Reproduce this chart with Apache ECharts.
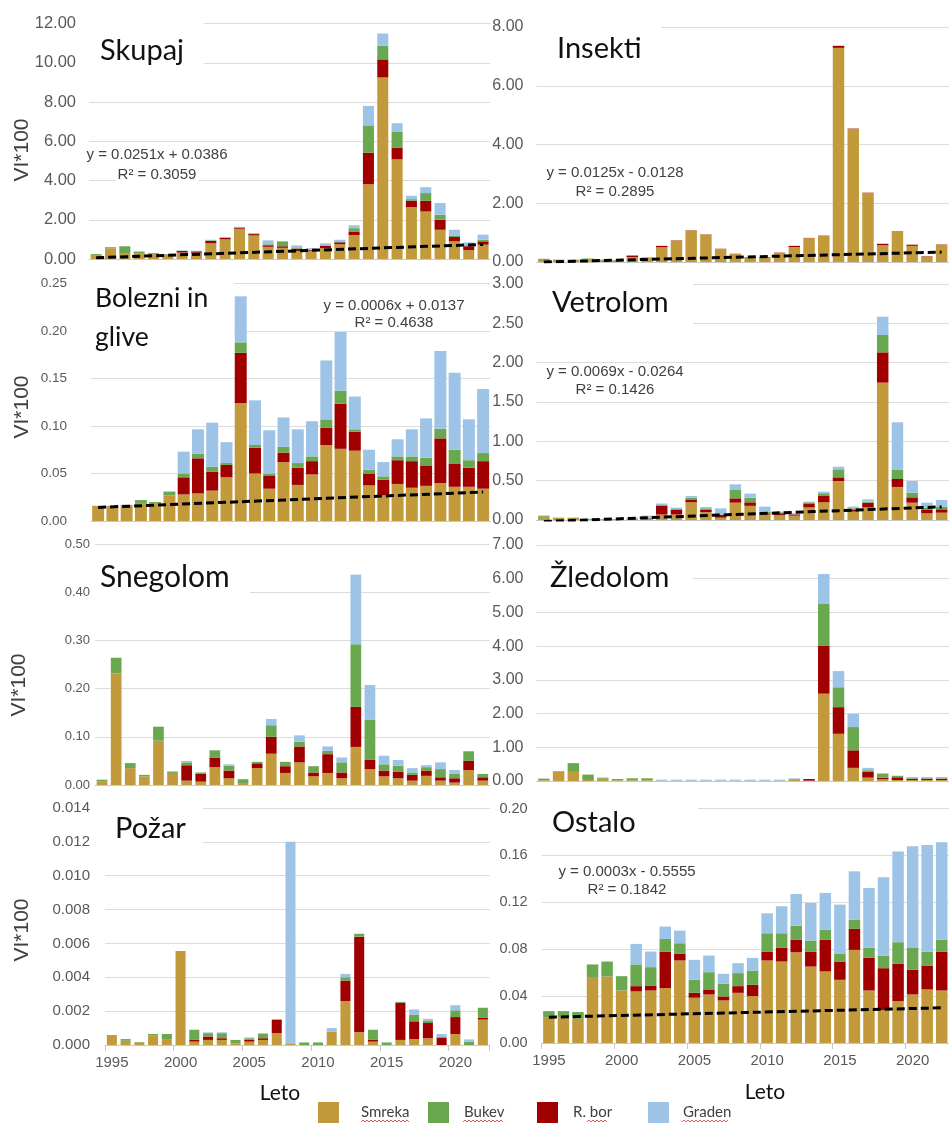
<!DOCTYPE html>
<html>
<head>
<meta charset="utf-8">
<script src="https://cdn.jsdelivr.net/npm/echarts/dist/echarts.min.js"></script>
<style>
  html, body { margin: 0; padding: 0; background: #ffffff; }
  #chart { width: 949px; height: 1124px; }
</style>
</head>
<body>
<div id="chart"></div>
<script>
// ---------- data ----------
const YEARS = ['1995','1996','1997','1998','1999','2000','2001','2002','2003','2004',
               '2005','2006','2007','2008','2009','2010','2011','2012','2013','2014',
               '2015','2016','2017','2018','2019','2020','2021','2022'];
const SPECIES = ['Smreka', 'Bukev', 'R. bor', 'Graden'];

// Skupaj
const SKUPAJ_SMREKA = [0.20,0.55,0.30,0.30,0.25,0.22,0.33,0.32,0.80,1.00,1.52,1.20,0.62,0.57,0.40,0.40,0.55,0.75,1.22,3.81,9.25,5.08,2.64,2.42,1.49,0.90,0.45,0.73];
const SKUPAJ_BUKEV  = [0.05,0.05,0.35,0.08,0.05,0.03,0.00,0.00,0.03,0.03,0.05,0.03,0.05,0.25,0.04,0.03,0.03,0.05,0.17,1.39,0.69,0.79,0.08,0.39,0.25,0.08,0.05,0.08];
const SKUPAJ_RBOR   = [0,0,0,0,0,0,0.08,0.07,0.12,0.07,0.05,0.07,0.08,0.08,0.12,0.05,0.12,0.10,0.18,1.61,0.92,0.60,0.33,0.55,0.51,0.22,0.20,0.17];
const SKUPAJ_GRADEN = [0,0,0,0,0,0,0.03,0.03,0.03,0.02,0.02,0.02,0.20,0.02,0.13,0.08,0.10,0.08,0.15,0.99,0.63,0.45,0.17,0.30,0.60,0.29,0.15,0.26];
const SKUPAJ_TREND  = [0.0637, 0.7414];

// Insekti
const INSEKTI_SMREKA = [0.07,0.07,0.07,0.08,0.07,0.06,0.17,0.14,0.50,0.73,1.07,0.93,0.44,0.27,0.16,0.16,0.31,0.51,0.81,0.89,7.29,4.54,2.35,0.57,1.04,0.55,0.19,0.59];
const INSEKTI_BUKEV  = [0.04,0.01,0.01,0.04,0.01,0.01,0,0,0,0,0,0,0,0,0,0,0,0,0,0,0,0,0,0,0,0,0,0];
const INSEKTI_RBOR   = [0,0,0,0,0,0,0.05,0.01,0.05,0.01,0.01,0.01,0.01,0.01,0.01,0.01,0.01,0.04,0.01,0.01,0.07,0.01,0.01,0.05,0.01,0.04,0.01,0.01];
const INSEKTI_GRADEN = [0,0,0,0,0,0,0,0,0,0,0,0,0,0,0,0,0,0,0,0,0,0,0,0,0,0,0,0];
const INSEKTI_TREND  = [-0.0003, 0.3372];

// Bolezni in glive
const BOLEZNI_SMREKA = [0.016,0.016,0.0165,0.019,0.019,0.027,0.028,0.029,0.032,0.046,0.124,0.050,0.034,0.062,0.038,0.049,0.080,0.076,0.074,0.0375,0.027,0.039,0.035,0.037,0.040,0.036,0.036,0.034];
const BOLEZNI_BUKEV  = [0,0,0.0005,0.003,0.001,0.004,0.004,0.005,0.005,0.002,0.011,0.003,0.002,0.006,0.005,0.005,0.009,0.0135,0.0025,0.004,0.0035,0.004,0.005,0.008,0.010,0.015,0.008,0.0085];
const BOLEZNI_RBOR   = [0,0,0,0,0,0,0.018,0.037,0.020,0.013,0.053,0.027,0.014,0.010,0.018,0.014,0.018,0.0475,0.020,0.0125,0.0165,0.025,0.028,0.0215,0.047,0.024,0.020,0.029];
const BOLEZNI_GRADEN = [0,0,0,0,0,0,0.023,0.0255,0.0465,0.022,0.0485,0.047,0.0455,0.031,0.0355,0.037,0.062,0.062,0.0345,0.021,0.015,0.018,0.0285,0.0415,0.082,0.081,0.043,0.0675];
const BOLEZNI_TREND  = [0.0143, 0.0305];

// Vetrolom
const VETROLOM_SMREKA = [0.04,0.025,0.025,0.012,0.01,0.01,0.01,0.01,0.07,0.07,0.225,0.10,0.03,0.22,0.18,0.07,0.064,0.055,0.16,0.225,0.496,0.106,0.16,1.746,0.42,0.22,0.085,0.093];
const VETROLOM_BUKEV  = [0.015,0.005,0.005,0.003,0.003,0.003,0.005,0.01,0.01,0.01,0.03,0.021,0.005,0.106,0.059,0.021,0.012,0,0.022,0.035,0.102,0.021,0.013,0.221,0.115,0.059,0.03,0.034];
const VETROLOM_RBOR   = [0,0,0,0,0,0,0,0.01,0.11,0.06,0.029,0.027,0.034,0.055,0.045,0.015,0.021,0.017,0.043,0.08,0.046,0.021,0.06,0.385,0.101,0.068,0.042,0.043];
const VETROLOM_GRADEN = [0,0,0,0,0,0,0.015,0.025,0.02,0.017,0.021,0.017,0.079,0.072,0.051,0.064,0.009,0.013,0.008,0.02,0.034,0.022,0.03,0.233,0.606,0.149,0.063,0.084];
const VETROLOM_TREND  = [-0.0195, 0.1668];

// Snegolom
const SNEGOLOM_SMREKA = [0.007,0.232,0.035,0.018,0.092,0.025,0.009,0.007,0.037,0.014,0.004,0.035,0.065,0.025,0.047,0.018,0.025,0.014,0.079,0.033,0.018,0.014,0.009,0.019,0.009,0.005,0.031,0.009];
const SNEGOLOM_BUKEV  = [0.004,0.032,0.0105,0.003,0.029,0.003,0.006,0.003,0.015,0.010,0.008,0.003,0.024,0.009,0.010,0.013,0.007,0.021,0.130,0.083,0.013,0.012,0.005,0.007,0.017,0.009,0.020,0.007];
const SNEGOLOM_RBOR   = [0,0,0,0,0,0,0.032,0.016,0.020,0.016,0,0.010,0.035,0.014,0.033,0.008,0.039,0.012,0.083,0.019,0.012,0.014,0.012,0.011,0.007,0.009,0.019,0.007];
const SNEGOLOM_GRADEN = [0,0,0,0,0,0,0.003,0,0,0.003,0,0,0.013,0,0.013,0,0.009,0.010,0.1445,0.0725,0.0177,0.012,0.009,0.004,0.014,0.008,0,0];

// Žledolom
const ZLEDOLOM_SMREKA = [0.02,0.27,0.27,0.03,0.07,0.02,0.02,0.02,0.005,0.005,0.005,0.005,0.005,0.005,0.005,0.005,0.005,0.05,0.01,2.59,1.40,0.39,0.10,0.05,0.03,0.03,0.03,0.03];
const ZLEDOLOM_BUKEV  = [0.05,0.02,0.26,0.16,0.03,0.04,0.06,0.06,0,0,0,0,0,0,0,0,0,0.01,0,1.23,0.59,0.69,0.05,0.12,0.04,0.01,0.01,0.01];
const ZLEDOLOM_RBOR   = [0,0,0,0,0,0,0,0,0,0,0,0,0,0,0,0,0,0,0.05,1.43,0.79,0.52,0.17,0.05,0.08,0.04,0.04,0.04];
const ZLEDOLOM_GRADEN = [0,0,0,0,0,0,0,0,0.035,0.035,0.035,0.035,0.035,0.035,0.035,0.035,0.035,0.02,0,0.89,0.48,0.39,0.07,0.01,0.01,0.04,0.04,0.04];

// Požar
const POZAR_SMREKA = [0.00059,0.00025,0.00015,0.00055,0.00035,0.00555,0.0002,0.0003,0.0003,0.0001,0.0002,0.0003,0.0007,0.0001,0,0,0.0008,0.0026,0.00075,0.0002,0,0.0003,0.00035,0.0004,0,0.00065,0,0.0015];
const POZAR_BUKEV  = [0,0.0001,0.00003,0.0001,0.0003,0,0.0006,0.0002,0.0003,0.0002,0.0001,0.00028,0,0,0.00015,0.00015,0,0.0002,0.00017,0.0006,0.00015,0.00005,0.0004,0.00015,0,0.0004,0.0002,0.0006];
const POZAR_RBOR   = [0,0,0,0,0,0,0.0001,0.0002,0.0001,0,0.0001,0.0001,0.0008,0,0,0,0,0.0012,0.00565,0.0001,0,0.0022,0.00105,0.0009,0.00045,0.001,0,0.0001];
const POZAR_GRADEN = [0,0,0,0,0,0,0,0.00005,0.00005,0,0.00005,0,0,0.0119,0,0,0.0002,0.0002,0,0,0,0,0.0003,0.0001,0.0002,0.0003,0.00013,0];

// Ostalo
const OSTALO_SMREKA = [0.0216,0.0216,0.0207,0.0556,0.0567,0.0448,0.044,0.0448,0.0468,0.0704,0.0386,0.0414,0.0363,0.0428,0.040,0.0704,0.0695,0.0774,0.0652,0.061,0.0539,0.0794,0.0448,0.028,0.0357,0.0414,0.0457,0.0448];
const OSTALO_BUKEV  = [0.0056,0.0056,0.0057,0.0114,0.0128,0.0122,0.0185,0.0157,0.0108,0.0091,0.0111,0.0147,0.0108,0.0111,0.0122,0.0156,0.0125,0.0119,0.0094,0.0085,0.0065,0.0077,0.0085,0.0108,0.0185,0.0187,0.0119,0.0102];
const OSTALO_RBOR   = [0,0,0,0,0,0,0.0045,0.0042,0.0312,0.0056,0.0042,0.0043,0.0034,0.0057,0.0096,0.0076,0.0116,0.0108,0.0128,0.0272,0.0156,0.0179,0.0278,0.0358,0.0318,0.021,0.0204,0.0332];
const OSTALO_GRADEN = [0,0,0,0,0,0,0.0175,0.0133,0.0105,0.0108,0.017,0.0142,0.0085,0.0085,0.0108,0.017,0.023,0.027,0.032,0.0313,0.042,0.0414,0.0511,0.0667,0.0774,0.0866,0.0908,0.083];
const OSTALO_TREND  = [0.022, 0.030];

// ---------- panel definitions ----------
const PANELS = [
  { title: 'Skupaj', values: [SKUPAJ_SMREKA, SKUPAJ_BUKEV, SKUPAJ_RBOR, SKUPAJ_GRADEN],
    max: 12, interval: 2, digits: 2, trend: SKUPAJ_TREND, eq: ['y = 0.0251x + 0.0386', 'R² = 0.3059'] },
  { title: 'Insekti', values: [INSEKTI_SMREKA, INSEKTI_BUKEV, INSEKTI_RBOR, INSEKTI_GRADEN],
    max: 8, interval: 2, digits: 2, trend: INSEKTI_TREND, eq: ['y = 0.0125x - 0.0128', 'R² = 0.2895'] },
  { title: 'Bolezni in\nglive', values: [BOLEZNI_SMREKA, BOLEZNI_BUKEV, BOLEZNI_RBOR, BOLEZNI_GRADEN],
    max: 0.25, interval: 0.05, digits: 2, trend: BOLEZNI_TREND, eq: ['y = 0.0006x + 0.0137', 'R² = 0.4638'] },
  { title: 'Vetrolom', values: [VETROLOM_SMREKA, VETROLOM_BUKEV, VETROLOM_RBOR, VETROLOM_GRADEN],
    max: 3, interval: 0.5, digits: 2, trend: VETROLOM_TREND, eq: ['y = 0.0069x - 0.0264', 'R² = 0.1426'] },
  { title: 'Snegolom', values: [SNEGOLOM_SMREKA, SNEGOLOM_BUKEV, SNEGOLOM_RBOR, SNEGOLOM_GRADEN],
    max: 0.5, interval: 0.1, digits: 2, trend: null, eq: null },
  { title: 'Žledolom', values: [ZLEDOLOM_SMREKA, ZLEDOLOM_BUKEV, ZLEDOLOM_RBOR, ZLEDOLOM_GRADEN],
    max: 7, interval: 1, digits: 2, trend: null, eq: null },
  { title: 'Požar', values: [POZAR_SMREKA, POZAR_BUKEV, POZAR_RBOR, POZAR_GRADEN],
    max: 0.014, interval: 0.002, digits: 3, trend: null, eq: null },
  { title: 'Ostalo', values: [OSTALO_SMREKA, OSTALO_BUKEV, OSTALO_RBOR, OSTALO_GRADEN],
    max: 0.2, interval: 0.04, digits: 2, trend: OSTALO_TREND, eq: ['y = 0.0003x - 0.5555', 'R² = 0.1842'] }
];

// ---------- layout & style ----------
const COLORS = ['#C29A3C', '#6AA84F', '#A00000', '#9DC3E6'];   // Smreka, Bukev, R. bor, Graden
const STACK_ORDER = [0, 2, 1, 3];                                // bottom → top
const NUM_FONT = '"Liberation Sans", Arial, sans-serif';
const TXT_FONT = 'Lato, "Open Sans", sans-serif';

const LAYOUT = [
  { left: 89,    top: 23.5,  bottom: 259,  catW: 14.33, gap: '23%', fs: 16.5, lm: 13, xLabels: false, tfs: 29,
    titlePos: [100, 31], cover: [86, 14, 118, 58],  eqPos: [157, 155, 175], vi: [22, 150] },
  { left: 536.5, top: 27,    bottom: 262,  catW: 15.05, gap: '22%', fs: 16,   lm: 13, xLabels: false, tfs: 29,
    titlePos: [557, 29], cover: [535, 14, 126, 62], eqPos: [615, 173, 192], vi: null },
  { left: 91,    top: 283.5, bottom: 521,  catW: 14.26, gap: '16%', fs: 13.5, lm: 24, xLabels: false, tfs: 26.5,
    titlePos: [95, 279],  cover: [89, 276, 145, 68], eqPos: [394, 306, 323], vi: [22, 407] },
  { left: 536.5, top: 284,   bottom: 520,  catW: 15.05, gap: '22%', fs: 16,   lm: 13, xLabels: false, tfs: 29,
    titlePos: [552, 283], cover: [535, 276, 158, 54], eqPos: [615, 372, 390], vi: null },
  { left: 95,    top: 544,   bottom: 785,  catW: 14.1,  gap: '24%', fs: 13,   lm: 5,  xLabels: false, tfs: 30,
    titlePos: [100, 558], cover: [94, 550, 156, 50],  eqPos: null, vi: [19, 685] },
  { left: 536.5, top: 545,   bottom: 781,  catW: 15.05, gap: '22%', fs: 16,   lm: 13, xLabels: false, tfs: 29,
    titlePos: [550, 558], cover: [535, 551, 158, 48], eqPos: null, vi: null },
  { left: 105,   top: 808,   bottom: 1045, catW: 13.74, gap: '27%', fs: 15,   lm: 15, xLabels: true,  tfs: 29,
    titlePos: [115, 809], cover: [104, 799, 99, 52],  eqPos: null, vi: [22, 930] },
  { left: 541.6, top: 808.5, bottom: 1043, catW: 14.8,  gap: '21%', fs: 14.5, lm: 14, xLabels: true,  tfs: 29,
    titlePos: [552, 803], cover: [540, 799, 158, 42], eqPos: [627, 872, 890], vi: null }
];

const LEGEND_LAYOUT = [
  { left: 318, pad: 17, wave: [361, 410] },
  { left: 428, pad: 10, wave: [463, 503] },
  { left: 537, pad: 10, wave: [587, 608] },
  { left: 648, pad: 9,  wave: [682, 728] }
];

// ---------- build option ----------
const grid = [], xAxis = [], yAxis = [], series = [], title = [], graphic = [], legend = [];

PANELS.forEach((p, i) => {
  const L = LAYOUT[i];
  grid.push({ left: L.left, top: L.top, width: L.catW * YEARS.length, height: L.bottom - L.top });

  xAxis.push({
    type: 'category', gridIndex: i, data: YEARS, boundaryGap: true,
    axisLine: { show: true, lineStyle: { color: '#c8c8c8', width: 1 } },
    axisTick: { show: L.xLabels, interval: 4, length: 6, lineStyle: { color: '#c8c8c8' } },
    axisLabel: { show: L.xLabels, interval: 4, color: '#595959', fontSize: 15, fontFamily: NUM_FONT, margin: 10 },
    splitLine: { show: false }
  });

  yAxis.push({
    type: 'value', gridIndex: i, min: 0, max: p.max, interval: p.interval,
    axisLine: { show: false }, axisTick: { show: false },
    splitLine: { lineStyle: { color: '#dcdcdc', width: 1 } },
    axisLabel: {
      formatter: v => v.toFixed(p.digits), color: '#595959',
      fontSize: L.fs, fontFamily: NUM_FONT, margin: L.lm
    }
  });

  STACK_ORDER.forEach(k => {
    series.push({
      type: 'bar', name: SPECIES[k], xAxisIndex: i, yAxisIndex: i, stack: 'panel' + i,
      data: p.values[k], barCategoryGap: L.gap,
      itemStyle: { color: COLORS[k] }, silent: true, z: 2
    });
  });

  if (p.trend) {
    const pts = YEARS.map(() => null);
    pts[0] = p.trend[0];
    pts[pts.length - 1] = p.trend[1];
    series.push({
      type: 'line', name: 'trend' + i, xAxisIndex: i, yAxisIndex: i, data: pts,
      connectNulls: true, symbol: 'none', clip: true, silent: true, z: 5,
      lineStyle: { color: '#000000', width: 3, type: [8, 4] }
    });
  }

  // white panel behind the caption so the grid lines stop at it
  graphic.push({
    type: 'rect', z: 1, silent: true,
    shape: { x: L.cover[0], y: L.cover[1], width: L.cover[2], height: L.cover[3] },
    style: { fill: '#ffffff' }
  });

  title.push({
    text: p.title, left: L.titlePos[0], top: L.titlePos[1], padding: 0,
    textStyle: { fontFamily: TXT_FONT, fontSize: L.tfs, fontWeight: 'normal', color: '#111111', lineHeight: 39 }
  });

  if (p.eq) {
    [0, 1].forEach(j => {
      graphic.push({
        type: 'text', z: 1, silent: true, x: L.eqPos[0], y: L.eqPos[1 + j],
        style: {
          text: p.eq[j], font: '15px ' + NUM_FONT, fill: '#404040',
          align: 'center', verticalAlign: 'middle', backgroundColor: '#ffffff', padding: [0, 2]
        }
      });
    });
  }

  if (L.vi) {
    graphic.push({
      type: 'text', z: 1, silent: true, x: L.vi[0], y: L.vi[1], rotation: Math.PI / 2,
      style: { text: 'VI*100', font: '21px ' + NUM_FONT, fill: '#404040', align: 'center', verticalAlign: 'middle' }
    });
  }
});

// axis titles under the bottom panels
[[280, 1093], [765, 1092]].forEach(pos => {
  graphic.push({
    type: 'text', z: 1, silent: true, x: pos[0], y: pos[1],
    style: { text: 'Leto', font: '21px ' + TXT_FONT, fill: '#111111', align: 'center', verticalAlign: 'middle' }
  });
});

// legend: one entry per component so each can be placed on its own
SPECIES.forEach((name, k) => {
  const LG = LEGEND_LAYOUT[k];
  legend.push({
    data: [name], left: LG.left, top: 1102, padding: 0, icon: 'rect',
    itemWidth: 21, itemHeight: 21, selectedMode: false,
    textStyle: { fontFamily: TXT_FONT, fontSize: 15, color: '#404040', padding: [2, 0, 0, LG.pad] }
  });
  // wavy proofing underline under the legend words
  const pts = [];
  for (let x = LG.wave[0], n = 0; x <= LG.wave[1]; x += 2, n++) pts.push([x, 1121 + (n % 2 ? -1 : 1)]);
  graphic.push({
    type: 'polyline', z: 1, silent: true, shape: { points: pts },
    style: { stroke: '#e05a5a', lineWidth: 1, fill: null }
  });
});

const chart = echarts.init(document.getElementById('chart'), null, { renderer: 'canvas' });
chart.setOption({
  backgroundColor: '#ffffff',
  animation: false,
  grid, xAxis, yAxis, series, title, legend, graphic
});
</script>
</body>
</html>
